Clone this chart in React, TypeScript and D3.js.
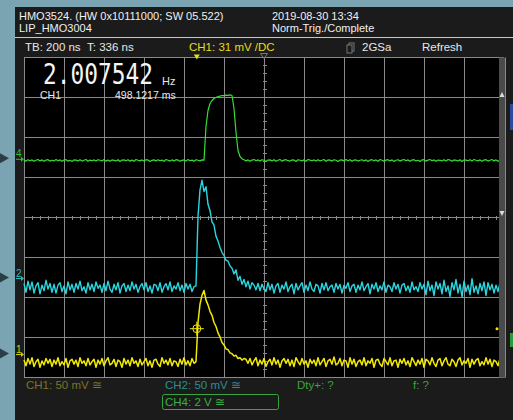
import * as d3 from "d3";

// sample clock: 2 GSa decimated to one point per 10 ns, first sample at left edge
const SAMPLE_NS = 10;
const TRIG_POS_NS = 336;
const NS_PER_DIV = 200;

// CH1 (yellow), mV relative to trace baseline
const ch1Pre = [
  3, -4, 5, -2, 6, -5, 1, 4, -6, 2, -3, 5, -1, 4, -5, 3, -2, 6, -4, 1,
  -3, 5, -6, 2, 4, -2, 3, -5, 6, -1, 2, -4, 5, -3, 1, 4, -6, 3, -2, 5,
  -4, 2, 6, -3, -1, 4, -5, 3, 1, -6, 5, -2, 3, -4, 6, -1, 2, -5, 4, -3,
  1, 5, -4, 2, -6, 3, 4, -2, -5, 6, -1, 3, -3, 5, -4, 2, 1, -5, 4, -2,
  6, -3, 2, -4, 5, -1,
];
const ch1Pulse = [
  1, 50, 73, 84, 90, 78, 72, 64, 59, 50, 45, 37, 32, 25, 22, 17, 16, 12, 11, 8, 9, 5, 6, 3, 5,
];
const ch1Post = [
  4, -1, 5, -3, 2, 6, -4, 3, -2, 5, -5, 1, 4, -3, 6, -2, 3, -6, 2, 5,
  -1, 4, -4, 3, -5, 6, 1, -3, 5, -2, 2, -6, 4, -1, 3, -4, 6, -3, 1, 5,
  -5, 2, 4, -2, 7, -3, -1, 5, -4, 3, 2, -6, 6, -2, 4, -5, 1, 3, -3, 6,
  -4, 2, -1, 5, -6, 3, 4, -2, -5, 5, 1, -3, 6, -4, 2, 3, -6, 4, -1, 5,
  -3, 2, -5, 6, 1, -4, 3, -2, 5, -6, 4, 2, -3, 6, -1, -5, 3, 5, -4, 2,
  6, -2, -4, 4, 1, -5, 3, 6, -3, 2, -1, 5, -6, 4, -2, 3, 5, -4, 1, -3,
  6, -2, 4, -5, 3, 1, -4, 5, 2,
];

// CH2 (cyan), mV relative to trace baseline
const ch2Pre = [
  5, -6, 8, -3, 7, -7, 2, 6, -8, 3, -4, 9, -2, 5, -6, 4, -7, 3, 6, -5,
  2, -8, 7, -3, 4, -6, 5, -2, 8, -4, 1, -7, 6, -3, 4, -5, 7, -1, 3, -6,
  5, -4, 8, -2, -6, 4, -3, 6, -7, 2, 5, -5, 3, -4, 7, -2, 4, -6, 1, 5,
  -3, 6, -5, 2, -7, 4, 3, -4, 6, -6, 1, 5, -3, 7, -5, 2, -2, 6, -4, 3,
  -6, 5, -2, 4, -5, 1,
];
const ch2Pulse = [
  2, 89, 122, 134, 120, 126, 104, 96, 82, 78, 64, 58, 50, 44, 40, 34, 33, 27, 24, 17,
  22, 9, 14, 4, 10, 1, 8, -2, 6, 3, -3, 5, -4, 4, -2,
];
const ch2Post = [
  -5, 6, -3, 4, -7, 2, 5, -6, 3, -2, 7, -5, 1, 4, -8, 5, -3, 2, 6, -6,
  3, -4, 7, -2, -5, 4, 2, -7, 5, -3, 6, -4, 1, 3, -6, 5, -2, 4, -7, 3,
  -1, 6, -5, 2, 4, -6, 3, -3, 7, -4, 1, 5, -8, 4, -2, 6, -5, 2, -3, 7,
  -6, 3, 1, -5, 6, -2, 4, -7, 3, 5, -4, 2, -6, 7, -3, 1, -5, 6, -2, 4,
  -9, 8, -4, 3, -10, 7, -2, 5, -8, 9, -5, 2, -11, 6, -3, 10, -7, 4, -12, 8,
  -5, 3, -9, 11, -6, 2, -8, 5, -4, 7, -10, 6, -3, 4, -7, 3, -5, 6, -2,
];

// CH4 (green), volts relative to trace baseline
const ch4Pre = [
  0.02, -0.03, 0.04, -0.01, 0.03, -0.04, 0.01, 0.05, -0.02, 0.03,
  -0.04, 0.02, 0.04, -0.03, 0.01, -0.02, 0.05, -0.01, 0.03, -0.04,
  0.02, 0.04, -0.03, 0.01, -0.05, 0.03, 0.02, -0.02, 0.04, -0.03,
  0.01, 0.05, -0.04, 0.02, -0.01, 0.03, -0.03, 0.04, 0.01, -0.02,
  0.05, -0.03, 0.02, -0.04, 0.03, 0.01, -0.02, 0.04, -0.05, 0.02,
  0.03, -0.01, 0.04, -0.03, 0.02, -0.04, 0.05, 0.01, -0.02, 0.03,
  -0.03, 0.04, 0.02, -0.05, 0.01, 0.03, -0.02, 0.04, -0.01, 0.02,
  -0.04, 0.05, 0.01, -0.03, 0.03, -0.02, 0.04, 0.02, -0.04, 0.01,
  0.03, -0.03, 0.05, -0.01, 0.02, -0.04, 0.04, 0.01, -0.02, 0.03,
];
const ch4Pulse = [
  0.02, 1.7, 2.5, 2.85, 3.0, 3.1, 3.15, 3.2, 3.22, 3.25, 3.24, 3.27, 3.26, 3.28, 3.25, 2.6,
  1.4, 0.5, 0.2, 0.08, 0.04,
];
const ch4Post = [
  -0.02, 0.03, -0.04, 0.02, 0.05, -0.01, 0.03, -0.03, 0.04, 0.01,
  -0.05, 0.02, 0.03, -0.02, 0.04, -0.04, 0.01, 0.05, -0.03, 0.02,
  0.04, -0.01, -0.03, 0.03, 0.02, -0.05, 0.04, 0.01, -0.02, 0.03,
  -0.04, 0.05, 0.02, -0.01, 0.03, -0.03, 0.04, -0.02, 0.01, 0.05,
  -0.04, 0.03, 0.02, -0.03, 0.04, 0.01, -0.05, 0.02, 0.03, -0.02,
  0.05, -0.01, 0.04, -0.04, 0.02, 0.03, -0.03, 0.01, 0.04, -0.02,
  0.03, -0.05, 0.02, 0.04, -0.01, 0.03, -0.04, 0.05, 0.01, -0.03,
  0.02, 0.04, -0.02, 0.03, -0.05, 0.01, 0.04, -0.03, 0.02, 0.05,
  -0.01, 0.03, -0.04, 0.02, 0.04, -0.02, 0.01, -0.05, 0.03, 0.04,
  -0.03, 0.02, 0.05, -0.01, 0.03, -0.04, 0.02, 0.01, -0.02, 0.04,
  -0.03, 0.05, 0.02, -0.04, 0.03, 0.01, -0.02, 0.04, -0.05, 0.03,
  0.02, -0.01, 0.04, -0.03, 0.05, 0.01, -0.02, 0.03, -0.04, 0.02,
  0.04, -0.03, 0.01, 0.05, -0.02, 0.03, -0.04, 0.02, 0.04,
];

const channels = [
  { name: "CH1", label: "1", color: "#f2ea00", width: 1.5, perDiv: 50, traceDiv: -3.625, markerDiv: -3.4, values: [...ch1Pre, ...ch1Pulse, ...ch1Post] },
  { name: "CH2", label: "2", color: "#2cd6df", width: 1.4, perDiv: 50, traceDiv: -1.75, markerDiv: -1.5, values: [...ch2Pre, ...ch2Pulse, ...ch2Post] },
  { name: "CH4", label: "4", color: "#35dd35", width: 1.2, perDiv: 2, traceDiv: 1.425, markerDiv: 1.48, values: [...ch4Pre, ...ch4Pulse, ...ch4Post] },
];

const TRIG_LEVEL_MV = 31;
const xDivs = d3.range(-6, 7);
const yDivs = d3.range(-4, 5);

const W = 513;
const H = 420;
const plot = { left: 24, right: 504, top: 57.5, bottom: 377.5 };

const sans = "'Liberation Sans', Arial, sans-serif";

export default function App() {
  const t0 = TRIG_POS_NS - 6 * NS_PER_DIV;
  const x = d3
    .scaleLinear()
    .domain([t0, TRIG_POS_NS + 6 * NS_PER_DIV])
    .range([plot.left, plot.right]);
  const xd = d3.scaleLinear().domain([-6, 6]).range([plot.left, plot.right]);
  const yd = d3.scaleLinear().domain([-4, 4]).range([plot.bottom, plot.top]);

  const minorX = d3.range(-6, 6.01, 0.2);
  const minorY = d3.range(-4, 4.01, 0.2);

  const trigY = yd(channels[0].markerDiv + TRIG_LEVEL_MV / channels[0].perDiv);
  const trigX = x(0);

  return (
    <svg
      width={W}
      height={H}
      style={{ position: "fixed", left: 0, top: 0, display: "block" }}
      fontFamily={sans}
    >
      <rect width={W} height={H} fill="#7aa4b2" />
      <rect x={15} y={7} width={W - 15} height={H - 7} fill="#1b1b1b" />

      {/* header */}
      <g fill="#f0f0f0" fontSize={11}>
        <text x={19} y={20}>HMO3524. (HW 0x10111000; SW 05.522)</text>
        <text x={19} y={32}>LIP_HMO3004</text>
        <text x={272} y={20}>2019-08-30 13:34</text>
        <text x={272} y={32}>Norm-Trig./Complete</text>
      </g>
      <line x1={15} x2={W} y1={37.5} y2={37.5} stroke="#c8c8c8" />
      <g fontSize={11.5}>
        <text x={25} y={51} fill="#e8e8e8">TB: 200 ns&#160;&#160;T: 336 ns</text>
        <text x={189} y={51} fill="#e6dc1e">CH1: 31 mV /DC</text>
        <rect x={349} y={43} width={5} height={8} fill="none" stroke="#777" />
        <rect x={347} y={45} width={5} height={8} fill="#1b1b1b" stroke="#777" />
        <text x={362} y={51} fill="#e8e8e8">2GSa</text>
        <text x={422} y={51} fill="#e8e8e8">Refresh</text>
      </g>

      {/* plot area */}
      <rect x={plot.left} y={plot.top} width={plot.right - plot.left + 1} height={plot.bottom - plot.top} fill="#000" />
      <g stroke="#8a8a8a" strokeWidth={1} shapeRendering="crispEdges">
        {xDivs.map((d) => (
          <line key={"gx" + d} x1={xd(d) + 0.5} x2={xd(d) + 0.5} y1={plot.top} y2={plot.bottom} />
        ))}
        {yDivs.map((d) => (
          <line key={"gy" + d} x1={plot.left} x2={plot.right} y1={yd(d)} y2={yd(d)} />
        ))}
        {minorX.map((d, i) => (
          <line key={"mx" + i} x1={xd(d) + 0.5} x2={xd(d) + 0.5} y1={yd(0) - 2} y2={yd(0) + 2} />
        ))}
        {minorY.map((d, i) => (
          <line key={"my" + i} x1={xd(0) - 1.5} x2={xd(0) + 2.5} y1={yd(d)} y2={yd(d)} />
        ))}
      </g>

      {/* traces */}
      <g fill="none" strokeLinejoin="round">
        {channels.map((c) => {
          const line = d3
            .line<number>()
            .x((_, i) => x(t0 + i * SAMPLE_NS))
            .y((v) => yd(c.traceDiv + v / c.perDiv));
          return <path key={c.name} d={line(c.values) ?? ""} stroke={c.color} strokeWidth={c.width} />;
        })}
      </g>

      {/* trigger cursor on CH1 */}
      <g stroke="#f2ea00" fill="none" strokeWidth={1}>
        <circle cx={trigX} cy={trigY} r={4} />
        <line x1={trigX - 7} x2={trigX + 7} y1={trigY} y2={trigY} />
        <line x1={trigX} x2={trigX} y1={trigY - 7} y2={trigY + 7} />
      </g>
      <path d={`M${trigX - 3},${plot.top - 3}h6l-3,5z`} fill="#e6dc1e" />
      <path d={`M${xd(0) - 3.5},${plot.top - 4}h7l-3.5,5z`} fill="none" stroke="#777" />

      {/* right scroll strip */}
      <rect x={499} y={plot.top} width={6} height={plot.bottom - plot.top} fill="#4a4a4a" />
      <line x1={505.5} x2={505.5} y1={plot.top} y2={plot.bottom} stroke="#8a8a8a" />
      <path d="M499.5,97h5l-2.5,-5z" fill="#ddd" />
      <path d="M499.5,211h5l-2.5,5z" fill="#ddd" />
      <circle cx={497} cy={trigY} r={1.5} fill="#f2ea00" />
      <rect x={510} y={104} width={3} height={26} fill="#2a4aa0" />
      <rect x={510} y={333} width={3} height={14} fill="#2a9a3a" />

      {/* channel ground markers */}
      {channels.map((c) => {
        const my = yd(c.markerDiv);
        return (
          <g key={"m" + c.name} fill={c.color} opacity={0.85}>
            <text x={16} y={my - 1} fontSize={10}>{c.label}</text>
            <line x1={16} x2={22} y1={my + 1} y2={my + 1} stroke={c.color} />
            <path d={`M21,${my - 1.5}l3,2.5l-3,2.5z`} />
            <path d={`M0,${my - 5}l9,5l-9,5z`} fill="#1f2d33" />
          </g>
        );
      })}

      {/* frequency readout */}
      <text
        x={43}
        y={84}
        fill="#f4f4f4"
        fontSize={25}
        fontFamily="'DejaVu Sans Mono', monospace"
        textLength={110}
        lengthAdjust="spacingAndGlyphs"
        transform="translate(0,-12) scale(1,1.14)"
      >
        2.007542
      </text>
      <text x={162} y={85} fill="#e8e8e8" fontSize={11}>Hz</text>
      <text x={40} y={99} fill="#e8e8e8" fontSize={10.5}>CH1</text>
      <text x={115} y={99} fill="#e8e8e8" fontSize={10.5}>498.1217 ms</text>

      {/* bottom channel info */}
      <g fontSize={11.5}>
        <text x={26} y={389} fill="#7c7426">CH1: 50 mV ≅</text>
        <text x={165} y={389} fill="#2b8d97">CH2: 50 mV ≅</text>
        <rect x={162.5} y={394.5} width={116} height={15} rx={2} fill="none" stroke="#3aa440" />
        <text x={165} y={406} fill="#3cb044">CH4: 2 V ≅</text>
        <text x={297} y={389} fill="#3aa440">Dty+: ?</text>
        <text x={413} y={389} fill="#3aa440">f: ?</text>
      </g>
    </svg>
  );
}
